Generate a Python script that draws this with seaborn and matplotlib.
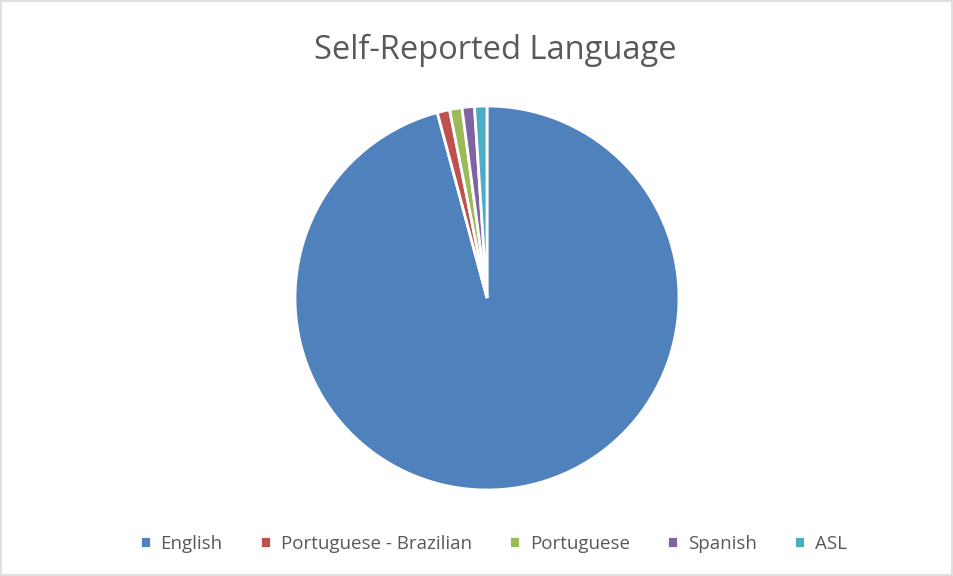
import matplotlib
matplotlib.use('Agg')
import matplotlib.pyplot as plt
import seaborn as sns
from matplotlib.patches import Rectangle

# Dados do grafico
idiomas = ['English', 'Portuguese - Brazilian', 'Portuguese', 'Spanish', 'ASL']
contagens = [92, 1, 1, 1, 1]
cores = ['#4F81BD', '#C0504D', '#9BBB59', '#8064A2', '#4BACC6']

sns.set_theme(style='white')
plt.rcParams['font.family'] = ['Open Sans', 'DejaVu Sans']
paleta = sns.color_palette(cores)

fig = plt.figure(figsize=(9.54, 5.76), dpi=100)

# borda cinza do grafico
fig.patches.append(Rectangle((0.001, 0.002), 0.997, 0.996, transform=fig.transFigure,
                             fill=False, edgecolor='#D9D9D9', linewidth=1.2))

ax = fig.add_axes([(487 - 192) / 954, (576 - 298 - 192) / 576, 384 / 954, 384 / 576])
fatias, _ = ax.pie(contagens, colors=paleta, startangle=90, counterclock=False,
                   wedgeprops=dict(edgecolor='white', linewidth=2))
ax.set_xlim(-1, 1)
ax.set_ylim(-1, 1)
ax.set_aspect('equal')

fig.text(0.519, 0.912, 'Self-Reported Language', ha='center', va='center',
         fontsize=23.5, color='#595959')

fig.legend(fatias, idiomas, loc='center', bbox_to_anchor=(0.517, 0.056), ncol=5,
           frameon=False, fontsize=13.5, handlelength=0.6, handleheight=0.6,
           handletextpad=0.5, columnspacing=2.0, labelcolor='#595959')

plt.savefig('out.png', dpi=100)
